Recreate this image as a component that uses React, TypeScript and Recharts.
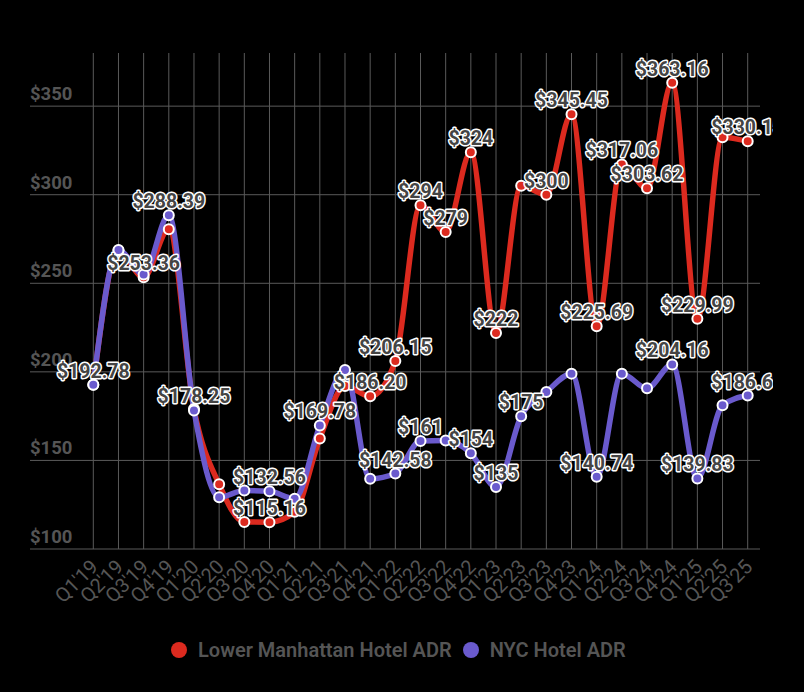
import React from 'react';
import { LineChart, Line, XAxis, YAxis, CartesianGrid, LabelList } from 'recharts';

const quarters = [
  "Q1'19", "Q2'19", "Q3'19", "Q4'19",
  "Q1'20", "Q2'20", "Q3'20", "Q4'20",
  "Q1'21", "Q2'21", "Q3'21", "Q4'21",
  "Q1'22", "Q2'22", "Q3'22", "Q4'22",
  "Q1'23", "Q2'23", "Q3'23", "Q4'23",
  "Q1'24", "Q2'24", "Q3'24", "Q4'24",
  "Q1'25", "Q2'25", "Q3'25",
];

const lowerManhattan = [
  192.78, 268.5, 253.36, 280.5,
  179, 136.5, 115.3, 115.16,
  121, 162.4, 192, 186.2,
  206.15, 294, 279, 324,
  222, 305, 300, 345.45,
  225.69, 317.06, 303.62, 363.16,
  229.99, 332.5, 330.15,
];

const nyc = [
  192.78, 268.8, 255, 288.39,
  178.25, 129.2, 133, 132.56,
  128.4, 169.78, 201, 139.6,
  142.58, 161, 161.2, 154,
  135, 175, 188.6, 199,
  140.74, 199, 190.7, 204.16,
  139.83, 181.2, 186.65,
];

const lowerManhattanLabels: (string | null)[] = [
  null, null, '$253.36', null,
  null, null, null, '$115.16',
  null, null, null, '$186.20',
  '$206.15', '$294', '$279', '$324',
  '$222', null, '$300', '$345.45',
  '$225.69', '$317.06', '$303.62', '$363.16',
  '$229.99', null, '$330.15',
];

const nycLabels: (string | null)[] = [
  '$192.78', null, null, '$288.39',
  '$178.25', null, null, '$132.56',
  null, '$169.78', null, null,
  '$142.58', '$161', null, '$154',
  '$135', '$175', null, null,
  '$140.74', null, null, '$204.16',
  '$139.83', null, '$186.65',
];

const yTicks = [100, 150, 200, 250, 300, 350];

const RED = '#dc2a1f';
const PURPLE = '#6a5acd';
const GRID = '#5a5a5a';
const TEXT = '#555555';
const FONT = 'Roboto, "Noto Sans", sans-serif';

const data = quarters.map((q, i) => ({
  q,
  lm: lowerManhattan[i],
  nyc: nyc[i],
  lmLabel: lowerManhattanLabels[i],
  nycLabel: nycLabels[i],
}));

const renderYTick = (props: any) => {
  const { x, y, payload } = props;
  return (
    <text x={x} y={y - 6} textAnchor="start" fill={TEXT} fontSize={18.5} fontWeight={700} fontFamily={FONT}>
      {`$${payload.value}`}
    </text>
  );
};

const renderXTick = (props: any) => {
  const { x, y, payload } = props;
  const ax = x + 6;
  const ay = y + 19;
  return (
    <text
      x={ax}
      y={ay}
      transform={`rotate(-45 ${ax} ${ay})`}
      textAnchor="end"
      fill={TEXT}
      fontSize={20}
      fontFamily={FONT}
    >
      {payload.value}
    </text>
  );
};

const makeLabel = (prefix: string) => (props: any) => {
  const { x, y, value, index } = props;
  if (value === null || value === undefined || value === '') return null;
  const id = `clip-${prefix}-${index}`;
  return (
    <g key={id}>
      <defs>
        <clipPath id={id}>
          <rect x={0} y={0} width={773} height={692} />
        </clipPath>
      </defs>
      <text
        x={x}
        y={y - 7}
        textAnchor="middle"
        fill="#444444"
        stroke="#ffffff"
        strokeWidth={3}
        strokeLinejoin="round"
        paintOrder="stroke"
        fontSize={19.5}
        fontWeight={700}
        fontFamily={FONT}
        clipPath={`url(#${id})`}
      >
        {value}
      </text>
    </g>
  );
};

const LegendItem = ({ color, label }: { color: string; label: string }) => (
  <div style={{ display: 'flex', alignItems: 'center', marginRight: 11 }}>
    <span
      style={{
        display: 'inline-block',
        width: 16,
        height: 16,
        borderRadius: 8,
        background: color,
        marginRight: 11,
      }}
    />
    <span style={{ color: TEXT, fontSize: 20, fontWeight: 600, fontFamily: FONT, whiteSpace: 'nowrap' }}>{label}</span>
  </div>
);

export default function App() {
  return (
    <div style={{ position: 'absolute', left: 0, top: 0, width: 804, height: 692, background: '#000', overflow: 'hidden' }}>
      <LineChart
        width={804}
        height={692}
        data={data}
        margin={{ top: 53, right: 44, bottom: 113, left: 0 }}
      >
        <CartesianGrid
          stroke={GRID}
          strokeWidth={1}
          vertical={true}
          horizontal={true}
          horizontalValues={yTicks}
          verticalValues={quarters}
        />
        <XAxis
          dataKey="q"
          interval={0}
          padding={{ left: 63.3, right: 12.3 }}
          axisLine={false}
          tickLine={false}
          tickSize={0}
          tickMargin={0}
          tick={renderXTick}
          height={30}
        />
        <YAxis
          type="number"
          domain={[100, 380]}
          ticks={yTicks}
          width={30}
          axisLine={false}
          tickLine={false}
          tickSize={0}
          tickMargin={0}
          tick={renderYTick}
          allowDataOverflow
        />
        <Line
          type="monotone"
          dataKey="lm"
          stroke={RED}
          strokeWidth={5.5}
          dot={{ r: 5, fill: RED, stroke: '#ffffff', strokeWidth: 2 }}
          activeDot={false}
          isAnimationActive={false}
        />
        <Line
          type="monotone"
          dataKey="nyc"
          stroke={PURPLE}
          strokeWidth={5.5}
          dot={{ r: 5, fill: PURPLE, stroke: '#ffffff', strokeWidth: 2 }}
          activeDot={false}
          isAnimationActive={false}
        />
        <Line
          type="monotone"
          dataKey="lm"
          stroke="none"
          dot={false}
          activeDot={false}
          legendType="none"
          isAnimationActive={false}
        >
          <LabelList dataKey="lmLabel" content={makeLabel('lm')} />
        </Line>
        <Line
          type="monotone"
          dataKey="nyc"
          stroke="none"
          dot={false}
          activeDot={false}
          legendType="none"
          isAnimationActive={false}
        >
          <LabelList dataKey="nycLabel" content={makeLabel('nyc')} />
        </Line>
      </LineChart>
      <div style={{ position: 'absolute', left: 171, top: 636, height: 28, display: 'flex', alignItems: 'center' }}>
        <LegendItem color={RED} label="Lower Manhattan Hotel ADR" />
        <LegendItem color={PURPLE} label="NYC Hotel ADR" />
      </div>
    </div>
  );
}
